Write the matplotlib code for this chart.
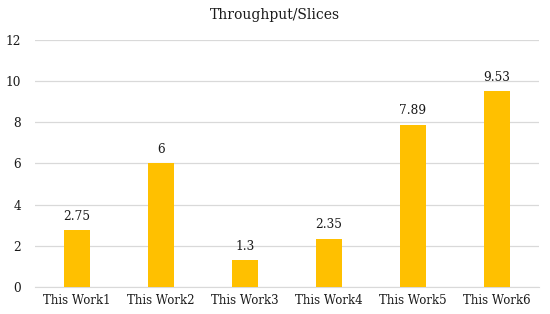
import matplotlib
matplotlib.use("Agg")
import matplotlib.pyplot as plt

categories = ["This Work1", "This Work2", "This Work3", "This Work4", "This Work5", "This Work6"]
values = [2.75, 6, 1.3, 2.35, 7.89, 9.53]
labels = ["2.75", "6", "1.3", "2.35", "7.89", "9.53"]
yticks = [0, 2, 4, 6, 8, 10, 12]

plt.rcParams['font.family'] = ['DejaVu Serif']
fig = plt.figure(figsize=(5.5, 3.14), dpi=100)
ax = fig.add_axes([0.0636, 0.086, 0.9164, 0.787])
x = list(range(len(categories)))
bars = ax.bar(x, values, width=0.31, color="#FFC000", zorder=3)
for xi, v, lab in zip(x, values, labels):
    ax.text(xi, v + 0.35, lab, ha="center", va="bottom", fontsize=8.7, color="#1a1a1a")
ax.set_xlim(-0.5, len(categories) - 0.5)
ax.set_ylim(0, 12)
ax.set_yticks(yticks)
ax.set_xticks(x)
ax.set_xticklabels(categories, fontsize=8.5, color="#1a1a1a")
ax.tick_params(axis="y", labelsize=8.7, labelcolor="#1a1a1a", length=0, pad=10)
ax.tick_params(axis="x", length=0, pad=5)
ax.grid(axis="y", color="#D9D9D9", linewidth=0.9, zorder=0)
for s in ["top", "right", "left"]:
    ax.spines[s].set_visible(False)
ax.spines["bottom"].set_color("#D9D9D9")
fig.text(0.5, 0.952, "Throughput/Slices", ha="center", va="center", fontsize=10, color="#1a1a1a")
fig.savefig("out.png", dpi=100)
